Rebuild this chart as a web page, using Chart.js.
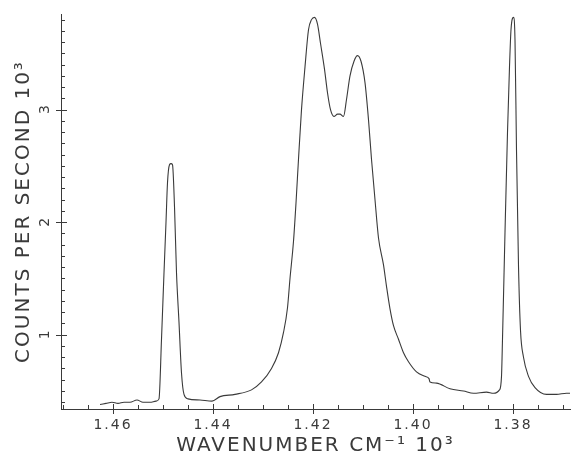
<!DOCTYPE html>
<html>
<head>
<meta charset="utf-8">
<script src="https://cdn.jsdelivr.net/npm/chart.js@4"></script>
<style>
  html, body { margin: 0; padding: 0; background: #fff; }
  #wrap { width: 572px; height: 460px; }
</style>
</head>
<body>
<div id="wrap"><canvas id="spectrumChart" width="572" height="460"></canvas></div>
<script>
// trace: wavenumber (cm-1 x 10^3) and counts per second (x 10^3)
var wavenumber = [
    1.4626, 1.4614, 1.4602, 1.4590, 1.4578, 1.4566, 1.4552, 1.4540, 1.4526, 1.4514,
    1.4508, 1.4503, 1.4498, 1.4494, 1.4491, 1.4487, 1.4484, 1.4481, 1.4477, 1.4473,
    1.4468, 1.4463, 1.4458, 1.4450, 1.4426, 1.4402, 1.4386, 1.4356, 1.4323, 1.4303,
    1.4283, 1.4269, 1.4259, 1.4251, 1.4246, 1.4239, 1.4234, 1.4229, 1.4223, 1.4216,
    1.4209, 1.4203, 1.4197, 1.4191, 1.4185, 1.4177, 1.4171, 1.4165, 1.4158, 1.4151,
    1.4146, 1.4139, 1.4133, 1.4126, 1.4118, 1.4111, 1.4104, 1.4096, 1.4089, 1.4083,
    1.4076, 1.4069, 1.4059, 1.4053, 1.4046, 1.4039, 1.4029, 1.4019, 1.4009, 1.3993,
    1.3976, 1.3968, 1.3966, 1.3953, 1.3926, 1.3899, 1.3879, 1.3853, 1.3839, 1.3827,
    1.3823, 1.3821, 1.3816, 1.3811, 1.3807, 1.3804, 1.3799, 1.3796, 1.3793, 1.3789,
    1.3785, 1.3779, 1.3769, 1.3756, 1.3733, 1.3713, 1.3693, 1.3686
];
var counts = [
    0.38, 0.39, 0.40, 0.39, 0.40, 0.40, 0.42, 0.40, 0.40, 0.41,
    0.43, 0.96, 1.55, 2.00, 2.35, 2.51, 2.52, 2.51, 2.14, 1.55,
    1.11, 0.66, 0.47, 0.43, 0.42, 0.41, 0.45, 0.47, 0.51, 0.58,
    0.70, 0.84, 1.02, 1.24, 1.50, 1.83, 2.17, 2.56, 3.00, 3.38,
    3.71, 3.80, 3.82, 3.76, 3.59, 3.36, 3.15, 3.00, 2.94, 2.96,
    2.96, 2.94, 3.09, 3.30, 3.43, 3.48, 3.43, 3.24, 2.91, 2.56,
    2.20, 1.86, 1.62, 1.43, 1.23, 1.08, 0.96, 0.84, 0.76, 0.67,
    0.63, 0.61, 0.58, 0.57, 0.52, 0.50, 0.48, 0.49, 0.48, 0.51,
    0.63, 0.96, 1.91, 2.80, 3.38, 3.71, 3.82, 3.62, 2.64, 1.61,
    1.04, 0.80, 0.63, 0.53, 0.47, 0.47, 0.48, 0.48
];
var xTickLabels = [1.46, 1.44, 1.42, 1.40, 1.38];
var yTickLabels = [1, 2, 3];

var inkColor = '#3a3a3a';

var points = wavenumber.map(function(w, i) {
    return { x: w, y: counts[i] };
});

function isXMajor(v) {
    return xTickLabels.some(function(t) { return Math.abs(t - v) < 1e-6; });
}

// plotter style tick marks (minor inside, major crossing) and sideways y labels
var plotterAxes = {
    id: 'plotterAxes',
    beforeDraw: function(chart) {
        chart.ctx.letterSpacing = '2px';
    },
    afterDraw: function(chart) {
        var ctx = chart.ctx;
        var xs = chart.scales.x;
        var ys = chart.scales.y;
        var area = chart.chartArea;
        ctx.save();
        ctx.letterSpacing = '0px';
        ctx.strokeStyle = inkColor;
        ctx.lineWidth = 1;
        ctx.beginPath();
        for (var i = 274; i <= 294; i++) {
            var v = i * 0.005;
            if (v < xs.min || v > xs.max) continue;
            var px = Math.round(xs.getPixelForValue(v)) + 0.5;
            if (isXMajor(v)) {
                ctx.moveTo(px, area.bottom - 5);
                ctx.lineTo(px, area.bottom + 5);
            } else {
                ctx.moveTo(px, area.bottom - 4);
                ctx.lineTo(px, area.bottom);
            }
        }
        for (var j = 4; j <= 38; j++) {
            var w = j / 10;
            if (w < ys.min || w > ys.max) continue;
            var py = Math.round(ys.getPixelForValue(w)) + 0.5;
            if (j % 10 === 0) {
                ctx.moveTo(area.left - 5, py);
                ctx.lineTo(area.left + 6, py);
            } else {
                ctx.moveTo(area.left, py);
                ctx.lineTo(area.left + 4, py);
            }
        }
        ctx.stroke();

        ctx.fillStyle = inkColor;
        ctx.font = '14px "DejaVu Sans"';
        ctx.textAlign = 'center';
        ctx.textBaseline = 'middle';
        yTickLabels.forEach(function(t) {
            ctx.save();
            ctx.translate(area.left - 16, ys.getPixelForValue(t));
            ctx.rotate(-Math.PI / 2);
            ctx.fillText(String(t), 0, 0);
            ctx.restore();
        });
        ctx.restore();
    }
};

var ctxSpectrum = document.getElementById('spectrumChart').getContext('2d');
var spectrumChart = new Chart(ctxSpectrum, {
    type: 'line',
    data: {
        datasets: [{
            label: 'Counts',
            data: points,
            borderColor: inkColor,
            borderWidth: 1.1,
            pointRadius: 0,
            fill: false,
            cubicInterpolationMode: 'monotone'
        }]
    },
    options: {
        responsive: false,
        animation: false,
        layout: { padding: { left: 0, right: 2, top: 14, bottom: 2 } },
        plugins: {
            legend: { display: false },
            tooltip: { enabled: false }
        },
        scales: {
            x: {
                type: 'linear',
                reverse: true,
                min: 1.3686,
                max: 1.4704,
                afterBuildTicks: function(scale) {
                    scale.ticks = xTickLabels.map(function(t) { return { value: t }; });
                },
                afterFit: function(scale) { scale.height = 49; },
                grid: { display: false },
                border: { display: true, color: inkColor, width: 1 },
                ticks: {
                    padding: 0,
                    color: inkColor,
                    font: { family: 'DejaVu Sans', size: 14 },
                    maxRotation: 0,
                    autoSkip: false,
                    callback: function(v) { return v.toFixed(2); }
                },
                title: {
                    display: true,
                    text: 'WAVENUMBER CM\u207B\u00B9 10\u00B3',
                    color: inkColor,
                    font: { family: 'DejaVu Sans', size: 20 },
                    padding: { top: 0, bottom: 0 }
                }
            },
            y: {
                type: 'linear',
                min: 0.34,
                max: 3.85,
                afterFit: function(scale) { scale.width = 61; },
                grid: { display: false },
                border: { display: true, color: inkColor, width: 1 },
                ticks: { display: false },
                title: {
                    display: true,
                    text: 'COUNTS PER SECOND 10\u00B3',
                    color: inkColor,
                    font: { family: 'DejaVu Sans', size: 20 },
                    padding: { top: 12, bottom: 0 }
                }
            }
        }
    },
    plugins: [plotterAxes]
});
</script>
</body>
</html>
